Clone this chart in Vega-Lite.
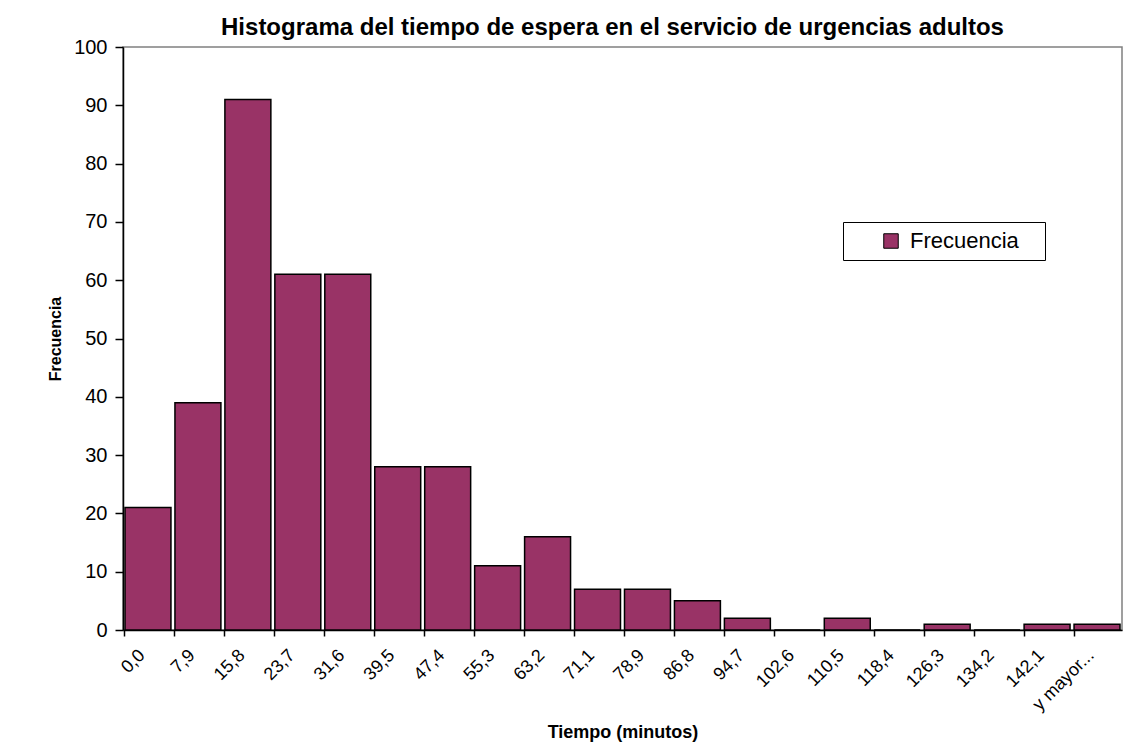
{
  "$schema": "https://vega.github.io/schema/vega-lite/v6.json",
  "autosize": "none",
  "width": 999,
  "height": 583,
  "padding": {"left": 123, "top": 47, "right": 3, "bottom": 124},
  "background": "white",
  "title": {
    "text": "Histograma del tiempo de espera en el servicio de urgencias adultos",
    "font": "Liberation Sans",
    "fontSize": 24,
    "fontWeight": "bold",
    "color": "black",
    "anchor": "middle",
    "offset": -3,
    "dx": -10
  },
  "data": {
    "values": [
      {"clase": "0,0", "frecuencia": 21},
      {"clase": "7,9", "frecuencia": 39},
      {"clase": "15,8", "frecuencia": 91},
      {"clase": "23,7", "frecuencia": 61},
      {"clase": "31,6", "frecuencia": 61},
      {"clase": "39,5", "frecuencia": 28},
      {"clase": "47,4", "frecuencia": 28},
      {"clase": "55,3", "frecuencia": 11},
      {"clase": "63,2", "frecuencia": 16},
      {"clase": "71,1", "frecuencia": 7},
      {"clase": "78,9", "frecuencia": 7},
      {"clase": "86,8", "frecuencia": 5},
      {"clase": "94,7", "frecuencia": 2},
      {"clase": "102,6", "frecuencia": 0},
      {"clase": "110,5", "frecuencia": 2},
      {"clase": "118,4", "frecuencia": 0},
      {"clase": "126,3", "frecuencia": 1},
      {"clase": "134,2", "frecuencia": 0},
      {"clase": "142,1", "frecuencia": 1},
      {"clase": "y mayor...", "frecuencia": 1}
    ]
  },
  "mark": {"type": "bar", "stroke": "black", "strokeWidth": 1.5},
  "encoding": {
    "x": {
      "field": "clase",
      "type": "ordinal",
      "sort": null,
      "scale": {"paddingInner": 0.08, "paddingOuter": 0.04},
      "axis": {
        "title": "Tiempo (minutos)",
        "bandPosition": 0,
        "labelOffset": -12,
        "labelAngle": -45,
        "labelFont": "Liberation Sans",
        "labelFontSize": 18,
        "labelColor": "black",
        "labelPadding": 10,
        "tickSize": 6,
        "tickColor": "black",
        "tickWidth": 1.5,
        "domainColor": "black",
        "domainWidth": 1.5,
        "titleFont": "Liberation Sans",
        "titleFontSize": 18,
        "titleFontWeight": "bold",
        "titleColor": "black",
        "titlePadding": 10
      }
    },
    "y": {
      "field": "frecuencia",
      "type": "quantitative",
      "scale": {"domain": [0, 100]},
      "axis": {
        "title": "Frecuencia",
        "values": [0, 10, 20, 30, 40, 50, 60, 70, 80, 90, 100],
        "grid": false,
        "labelFont": "Liberation Sans",
        "labelFontSize": 20,
        "labelColor": "black",
        "labelPadding": 8,
        "tickSize": 8,
        "tickColor": "black",
        "tickWidth": 1.5,
        "domainColor": "black",
        "domainWidth": 1.5,
        "titleFont": "Liberation Sans",
        "titleFontSize": 16,
        "titleFontWeight": "bold",
        "titleColor": "black",
        "titlePadding": 10
      }
    },
    "color": {
      "datum": "Frecuencia",
      "type": "nominal",
      "scale": {"range": ["#993366"]},
      "legend": {
        "title": " ",
        "titleOrient": "right",
        "titleFontSize": 10,
        "titlePadding": 18,
        "orient": "none",
        "legendX": 720,
        "legendY": 175,
        "strokeColor": "black",
        "fillColor": "white",
        "padding": 8,
        "symbolType": "square",
        "symbolSize": 210,
        "symbolStrokeColor": "black",
        "symbolStrokeWidth": 1,
        "symbolOffset": 29,
        "labelFont": "Liberation Sans",
        "labelFontSize": 22,
        "labelColor": "black",
        "labelOffset": 8
      }
    }
  },
  "config": {
    "view": {"stroke": "#808080", "strokeWidth": 1.5}
  }
}
